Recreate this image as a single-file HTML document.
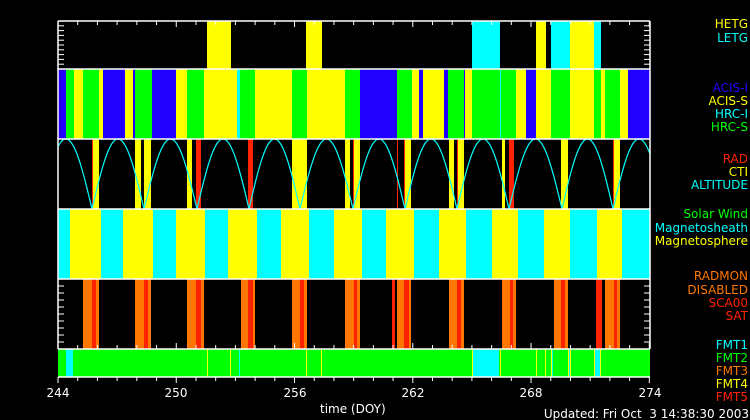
<!DOCTYPE html>
<html><head><meta charset="utf-8"><style>
html,body{margin:0;padding:0;background:#000;width:750px;height:420px;overflow:hidden}
svg{display:block}
text{font-family:"DejaVu Sans","Liberation Sans",sans-serif;font-size:12px}
</style></head><body>
<svg id="s" width="750" height="420" xmlns="http://www.w3.org/2000/svg">
<rect width="750" height="420" fill="#000"/>
<g id="bars"></g>
<polyline id="alt" fill="none" stroke="#00ffff" stroke-width="1.2"/>
<g id="ax" stroke="#fff" stroke-width="1.5" fill="none"></g>
<g id="tk" stroke="#fff" stroke-width="1"></g>
<g fill="#fff" text-anchor="middle" font-size="13">
<text x="58" y="397">244</text><text x="176" y="397">250</text><text x="295" y="397">256</text>
<text x="413" y="397">262</text><text x="531" y="397">268</text><text x="650" y="397">274</text>
</g>
<text x="320" y="413" fill="#fff">time (DOY)</text>
<text x="749" y="418" fill="#fff" text-anchor="end" xml:space="preserve">Updated: Fri Oct  3 14:38:30 2003</text>
<g text-anchor="end">
<text x="748" y="28" fill="#ffff00">HETG</text>
<text x="748" y="42" fill="#00ffff">LETG</text>
<text x="748" y="92" fill="#2200ff">ACIS-I</text>
<text x="748" y="105" fill="#ffff00">ACIS-S</text>
<text x="748" y="118" fill="#00ffff">HRC-I</text>
<text x="748" y="131" fill="#00ff00">HRC-S</text>
<text x="748" y="163" fill="#ff2200">RAD</text>
<text x="748" y="176" fill="#ffff00">CTI</text>
<text x="748" y="189" fill="#00ffff">ALTITUDE</text>
<text x="748" y="218" fill="#00ff00">Solar Wind</text>
<text x="748" y="232" fill="#00ffff">Magnetosheath</text>
<text x="748" y="245" fill="#ffff00">Magnetosphere</text>
<text x="748" y="280" fill="#ff7700">RADMON</text>
<text x="748" y="294" fill="#ff7700">DISABLED</text>
<text x="748" y="307" fill="#ff2200">SCA00</text>
<text x="748" y="320" fill="#ff2200">SAT</text>
<text x="748" y="349" fill="#00ffff">FMT1</text>
<text x="748" y="362" fill="#00ff00">FMT2</text>
<text x="748" y="375" fill="#ff7700">FMT3</text>
<text x="748" y="388" fill="#ffff00">FMT4</text>
<text x="748" y="401" fill="#ff2200">FMT5</text>
</g>
</svg>
<script>
var Y='#ffff00',C='#00ffff',G='#00ff00',B='#2200ff',R='#ff2200',O='#ff7700';
var out='';
function R_(y0,y1,list){list.forEach(function(a){out+='<rect x="'+a[0]+'" y="'+y0+'" width="'+Math.max(a[1]-a[0],1)+'" height="'+(y1-y0)+'" fill="'+a[2]+'"/>';});}
R_(21,69,[[207,231,Y],[306,322,Y],[472,500,C],[536,546,Y],[551,570,C],[570,594,Y],[594,601,C]]);
R_(69,139,[[58,66,B],[66,74,G],[74,83,Y],[83,99,G],[99,103,Y],[103,125,B],[125,133,Y],[133,135,B],[135,152,G],[152,176,B],[176,187,Y],[187,204,G],[204,237,Y],[237,240,C],[240,255,G],[255,292,Y],[292,307,G],[307,345,Y],[345,360,G],[360,397,B],[397,412,G],[412,419,Y],[419,423,B],[423,444,Y],[444,448,B],[448,464,G],[464,465,B],[465,472,Y],[472,500,G],[500,501,C],[501,516,G],[516,526,Y],[526,536,B],[536,551,Y],[551,570,G],[570,594,Y],[594,601,G],[601,605,Y],[605,620,G],[620,628,Y],[628,650,B]]);
R_(139,209,[[92,93,R],[93,99,Y],[135,141,Y],[144,151,Y],[187,192,Y],[196,201,R],[248,253,R],[292,307,Y],[345,350,Y],[353,354,R],[354,360,Y],[397,398,R],[404,405,R],[405,411,Y],[449,454,Y],[457,458,R],[458,464,Y],[502,505,Y],[509,514,R],[561,568,Y],[613,614,R],[614,620,Y]]);
R_(209,279,[[58,70,C],[70,101,Y],[101,123,C],[123,153,Y],[153,176,C],[176,205,Y],[205,228,C],[228,257,Y],[257,281,C],[281,309,Y],[309,334,C],[334,362,Y],[362,386,C],[386,414,Y],[414,439,C],[439,466,Y],[466,492,C],[492,518,Y],[518,544,C],[544,570,Y],[570,597,C],[597,622,Y],[622,650,C]]);
R_(279,349,[[83,99,O],[92,96,R],[135,151,O],[144,148,R],[187,204,O],[196,201,R],[241,255,O],[248,253,R],[292,307,O],[300,304,R],[345,360,O],[354,357,R],[392,395,R],[397,411,O],[404,409,R],[449,464,O],[457,461,R],[502,516,O],[510,513,R],[554,568,O],[561,565,R],[596,602,R],[605,620,O],[614,617,R]]);
R_(349,377,[[58,650,G],[66,73,C],[207,208,Y],[230,231,Y],[239,240,C],[306,307,Y],[321,322,Y],[472,473,Y],[473,499,C],[500,501,Y],[536,537,Y],[545,546,Y],[551,552,Y],[552,553,C],[568,569,Y],[569,570,C],[570,571,Y],[594,595,Y],[595,600,C],[600,601,Y]]);
document.getElementById('bars').innerHTML=out;
// altitude
var mins=[92,144,197,249,300,353,405,457,509,562,613,665],pts=[];
for(var x=58;x<=650;x+=1){var i=0;while(i<mins.length-1&&mins[i+1]<x)i++;var a,b;if(x<mins[0]){a=mins[0]-52.3;b=mins[0];}else{a=mins[i];b=mins[i+1];}
var f=(x-a)/(b-a);pts.push(x+','+(209-70*Math.sin(Math.PI*f)).toFixed(1));}
document.getElementById('alt').setAttribute('points',pts.join(' '));
// axes
var ax='';[21,69,139,209,279,349].forEach(function(y){ax+='<line x1="58" y1="'+y+'" x2="650" y2="'+y+'"/>';});
ax+='<line x1="58" y1="377" x2="650" y2="377"/><line x1="58" y1="21" x2="58" y2="349"/><line x1="650" y1="21" x2="650" y2="349"/>';
document.getElementById('ax').innerHTML=ax;
var tk='';for(var d=0;d<=30;d++){var x=58+d*19.71;var L=(d%6==0)?6:4;tk+='<line x1="'+x+'" y1="377" x2="'+x+'" y2="'+(377+L)+'"/>';tk+='<line x1="'+x+'" y1="349" x2="'+x+'" y2="'+(349-L)+'"/>';tk+='<line x1="'+x+'" y1="21" x2="'+x+'" y2="'+(21+L)+'"/>';}
for(var k=1;k<10;k++){var y=21+k*4.8;tk+='<line x1="58" y1="'+y+'" x2="64" y2="'+y+'"/><line x1="650" y1="'+y+'" x2="644" y2="'+y+'"/>';var y2=279+k*7;tk+='<line x1="58" y1="'+y2+'" x2="64" y2="'+y2+'"/><line x1="650" y1="'+y2+'" x2="644" y2="'+y2+'"/>';}
document.getElementById('tk').innerHTML=tk;
</script>
</body></html>
